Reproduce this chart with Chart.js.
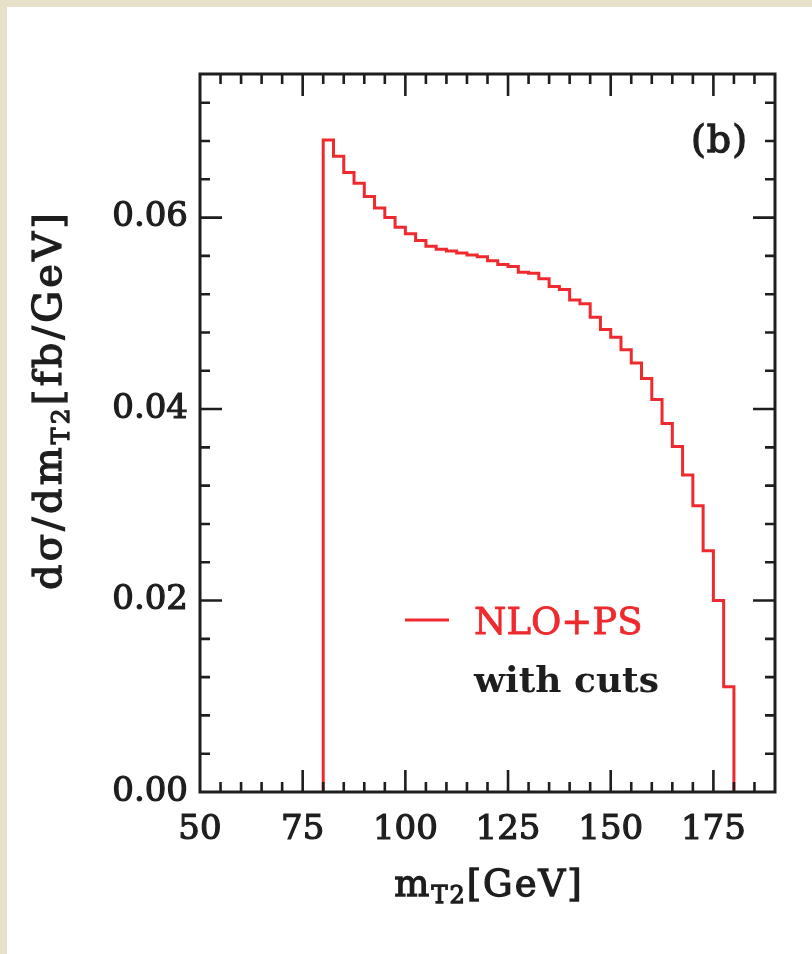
<!DOCTYPE html>
<html>
<head>
<meta charset="utf-8">
<script src="https://cdn.jsdelivr.net/npm/chart.js@4.4.1/dist/chart.umd.min.js"></script>
<style>
  html, body { margin: 0; padding: 0; background: #fff; }
  #wrap { width: 812px; height: 954px; }
</style>
</head>
<body>
<div id="wrap"><canvas id="mt2Chart" width="812" height="954"></canvas></div>
<script>
// lower bin edges of the m_T2 histogram (GeV) and the last upper edge
const binEdges = [80, 82.5, 85, 87.5, 90, 92.5, 95, 97.5, 100, 102.5,
                  105, 107.5, 110, 112.5, 115, 117.5, 120, 122.5, 125, 127.5,
                  130, 132.5, 135, 137.5, 140, 142.5, 145, 147.5, 150, 152.5,
                  155, 157.5, 160, 162.5, 165, 167.5, 170, 172.5, 175, 177.5];
const lastEdge = 180;
// dsigma/dmT2 [fb/GeV], NLO+PS with cuts
const binValues = [0.0681, 0.0664, 0.0647, 0.0636, 0.0622, 0.0610, 0.0600, 0.0590, 0.0583, 0.0576,
                   0.0570, 0.0567, 0.0565, 0.0563, 0.0561, 0.0559, 0.0555, 0.0551, 0.0549, 0.0543,
                   0.0542, 0.0536, 0.0528, 0.0525, 0.0514, 0.0510, 0.0496, 0.0483, 0.0475, 0.0462,
                   0.0448, 0.0432, 0.0410, 0.0385, 0.0361, 0.0331, 0.0299, 0.0252, 0.0200, 0.0110];

const xTicks = [50, 75, 100, 125, 150, 175];
const yTicks = [0, 0.02, 0.04, 0.06];
const seriesLabel = 'NLO+PS';
const noteText = 'with cuts';
const panelText = '(b)';

const RED = '#ee2a2e';
const INK = '#1e1e1e';
const FONT = 'DejaVu Serif';

// step outline: start at zero, one point per bin edge, drop back to zero
const histPoints = [{ x: binEdges[0], y: 0 }]
  .concat(binEdges.map((e, i) => ({ x: e, y: binValues[i] })))
  .concat([{ x: lastEdge, y: 0 }]);

// draws text pieces one after another (for subscripts), a thin stroke thickens the glyphs
function richText(ctx, parts, x, y, spacing) {
  ctx.letterSpacing = (spacing || 0) + 'px';
  let w = 0;
  parts.forEach(p => { ctx.font = p.font; w += ctx.measureText(p.t).width; });
  let cx = x - w / 2;
  parts.forEach(p => {
    ctx.font = p.font;
    ctx.fillText(p.t, cx, y + (p.dy || 0));
    ctx.strokeText(p.t, cx, y + (p.dy || 0));
    cx += ctx.measureText(p.t).width;
  });
  ctx.letterSpacing = '0px';
}

const pageDecor = {
  id: 'pageDecor',
  beforeDraw(chart) {
    const ctx = chart.ctx;
    ctx.save();
    ctx.fillStyle = '#ffffff';
    ctx.fillRect(0, 0, chart.width, chart.height);
    ctx.fillStyle = '#e8e1ca';
    ctx.fillRect(0, 0, chart.width, 7);
    ctx.fillRect(0, 0, 7, chart.height);
    ctx.restore();
  }
};

const frameTicks = {
  id: 'frameTicks',
  afterDatasetsDraw(chart) {
    const { ctx, chartArea: a, scales: { x, y } } = chart;
    ctx.save();
    ctx.strokeStyle = INK;
    ctx.lineWidth = 2.6;
    ctx.lineCap = 'butt';
    ctx.beginPath();
    // x ticks, every 5 GeV, long ones on the labelled values
    for (let i = 0; i <= 28; i++) {
      const v = 50 + i * 5;
      const px = x.getPixelForValue(v);
      if (px <= a.left + 1 || px >= a.right - 1) continue;
      const len = xTicks.includes(v) ? 22 : 10;
      ctx.moveTo(px, a.bottom); ctx.lineTo(px, a.bottom - len);
      ctx.moveTo(px, a.top); ctx.lineTo(px, a.top + len);
    }
    // y ticks, every 0.004
    for (let i = 0; i <= 18; i++) {
      const v = i * 0.004;
      const py = y.getPixelForValue(v);
      if (py <= a.top + 1 || py >= a.bottom - 1) continue;
      const len = (i % 5 === 0) ? 22 : 10;
      ctx.moveTo(a.left, py); ctx.lineTo(a.left + len, py);
      ctx.moveTo(a.right, py); ctx.lineTo(a.right - len, py);
    }
    ctx.stroke();
    ctx.lineWidth = 3;
    ctx.strokeRect(a.left, a.top, a.right - a.left, a.bottom - a.top);
    ctx.restore();
  },
  afterDraw(chart) {
    const ctx = chart.ctx;
    ctx.save();
    ctx.fillStyle = INK;
    ctx.strokeStyle = INK;
    ctx.lineWidth = 1.3;
    ctx.textBaseline = 'alphabetic';

    // x axis title
    richText(ctx, [
      { t: 'm', font: '37px ' + FONT },
      { t: 'T2', font: '24px ' + FONT, dy: 7 },
      { t: '[GeV]', font: '37px ' + FONT }
    ], 489, 896, 2);

    // y axis title (rotated)
    ctx.save();
    ctx.translate(61, 400);
    ctx.rotate(-Math.PI / 2);
    richText(ctx, [
      { t: 'd\u03c3/dm', font: '40px ' + FONT },
      { t: 'T2', font: '25px ' + FONT, dy: 8 },
      { t: '[fb/GeV]', font: '40px ' + FONT }
    ], 0, 0, 3.2);
    ctx.restore();

    // panel tag
    ctx.textAlign = 'left';
    ctx.lineWidth = 1.4;
    ctx.font = '38px ' + FONT;
    ctx.letterSpacing = '1px';
    ctx.fillText(panelText, 691, 152);
    ctx.strokeText(panelText, 691, 152);
    ctx.letterSpacing = '0px';

    // legend
    ctx.strokeStyle = RED;
    ctx.lineWidth = 3;
    ctx.beginPath();
    ctx.moveTo(405, 620); ctx.lineTo(449, 620);
    ctx.stroke();
    ctx.fillStyle = RED;
    ctx.lineWidth = 0.8;
    ctx.font = '37px ' + FONT;
    ctx.fillText(seriesLabel, 474, 634);
    ctx.strokeText(seriesLabel, 474, 634);
    ctx.fillStyle = INK;
    ctx.font = 'bold 36px ' + FONT;
    ctx.fillText(noteText, 474, 692);
    ctx.restore();
  }
};

const ctx = document.getElementById('mt2Chart').getContext('2d');

const tickFont = { family: FONT, size: 34 };

const chart = new Chart(ctx, {
  type: 'line',
  data: {
    datasets: [{
      label: seriesLabel,
      data: histPoints,
      stepped: true,
      borderColor: RED,
      borderWidth: 3,
      pointRadius: 0,
      fill: false,
      tension: 0,
      borderJoinStyle: 'miter'
    }]
  },
  options: {
    responsive: false,
    animation: false,
    events: [],
    layout: { padding: { left: 0, top: 74, right: 37, bottom: 0 } },
    plugins: {
      legend: { display: false },
      tooltip: { enabled: false }
    },
    scales: {
      x: {
        type: 'linear',
        min: 50,
        max: 190,
        afterBuildTicks: s => { s.ticks = xTicks.map(v => ({ value: v })); },
        afterFit: s => { s.height = 162; },
        grid: { display: false, drawTicks: false },
        border: { display: false },
        ticks: {
          color: INK,
          textStrokeColor: INK,
          textStrokeWidth: 1.2,
          padding: 18,
          maxRotation: 0,
          autoSkip: false,
          font: tickFont,
          callback: v => String(v)
        }
      },
      y: {
        type: 'linear',
        min: 0,
        max: 0.075,
        afterBuildTicks: s => { s.ticks = yTicks.map(v => ({ value: v })); },
        afterFit: s => { s.width = 200; },
        grid: { display: false, drawTicks: false },
        border: { display: false },
        ticks: {
          color: INK,
          textStrokeColor: INK,
          textStrokeWidth: 1.2,
          padding: 12,
          autoSkip: false,
          font: tickFont,
          callback: v => v.toFixed(2)
        }
      }
    }
  },
  plugins: [pageDecor, frameTicks]
});
</script>
</body>
</html>
